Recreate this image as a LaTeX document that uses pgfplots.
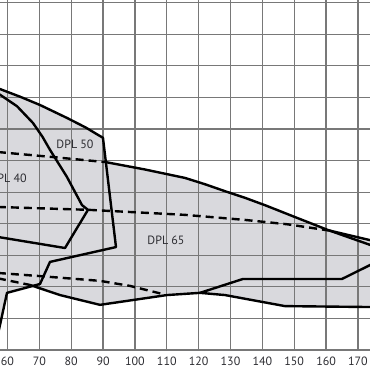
\documentclass[border=0pt]{standalone}
\usepackage{fontspec}
\setmainfont{PT Sans}
\usepackage{pgfplots}
\pgfplotsset{compat=1.18}
\definecolor{fillgray}{RGB}{217,217,221}
\definecolor{gridgray}{RGB}{120,120,120}
\definecolor{txt}{RGB}{45,45,50}
\begin{document}
\begin{tikzpicture}
\begin{axis}[name=ax, at={(0,0)}, anchor=south west,
  scale only axis, width=185pt, height=175pt,
  xmin=57.65, xmax=173.79, ymin=0, ymax=11.085,
  xtick={60,70,...,170}, ytick={0,...,11}, yticklabels={},
  grid=major, major grid style={gridgray, line width=0.6pt},
  axis line style={draw=none}, major tick length=0pt,
  tick label style={font=\fontsize{6}{7}\selectfont, text=txt},
  /pgf/number format/assume math mode=true,
  set layers, clip=true]
% gray envelope
\addplot[draw=none, fill=fillgray, on layer=axis background] coordinates {
 (57.0,8.29) (64.0,8.02) (70.2,7.76) (78.67,7.35) (84.5,7.05) (89.97,6.72) (90.89,5.95)
 (103.0,5.72) (115.71,5.45) (122.0,5.25) (128.27,5.03) (134.55,4.82) (141.0,4.58)
 (150.0,4.22) (161.2,3.78) (174.5,3.46) (174.5,1.36) (147.1,1.39)
 (128.27,1.74) (120.42,1.81) (110.06,1.74) (89.03,1.43) (76.48,1.74) (67.06,2.06)
 (59.84,1.81) (57.65,0.79) (57.3,0.63) (57.0,0.63)} -- cycle;
% DPL 50 boundary
\addplot[black, line width=1.2pt, line join=round] coordinates {
 (57.0,8.29) (64.0,8.02) (70.2,7.76) (78.67,7.35) (84.5,7.05) (89.97,6.72) (94.06,3.26) (73.34,2.79)
 (70.2,2.09) (59.84,1.81) (57.65,0.79) (57.3,0.63)};
% DPL 40 boundary
\addplot[black, line width=1.2pt, line join=round] coordinates {
 (57.0,8.13) (63.0,7.72) (68.0,7.19) (71.0,6.75) (73.34,6.34) (78.67,5.48) (83.38,4.59) (85.27,4.44)
 (78.05,3.23) (57.0,3.58)};
% upper dashed
\addplot[black, line width=1.2pt, dash pattern=on 4pt off 2.5pt] coordinates {
 (57.0,6.27) (74.28,6.11) (90.89,5.95)};
% DPL 65 top
\addplot[black, line width=1.2pt, line join=round] coordinates {
 (90.89,5.95) (103.0,5.72) (115.71,5.45) (122.0,5.25) (128.27,5.03) (134.55,4.82) (141.0,4.58)
 (150.0,4.22) (160.6,3.80) (173.79,3.33) (174.5,3.30)};
% middle dashed + solid end
\addplot[black, line width=1.2pt, dash pattern=on 4pt off 2.5pt] coordinates {
 (57.0,4.53) (85.27,4.44) (115.71,4.28) (134.55,4.12) (148.0,3.98) (161.2,3.78)};
\addplot[black, line width=1.2pt] coordinates {(161.2,3.78) (173.79,3.48) (174.5,3.46)};
% lower dashed
\addplot[black, line width=1.2pt, dash pattern=on 4pt off 2.5pt] coordinates {
 (57.0,2.44) (70.2,2.34) (89.03,2.19) (98.45,2.03) (108.8,1.77)};
% DPL 65 bottom
\addplot[black, line width=1.2pt, dash pattern=on 4pt off 2.5pt] coordinates {
 (57.0,2.27) (67.06,2.06)};
\addplot[black, line width=1.2pt, line join=round] coordinates {
 (67.06,2.06) (76.48,1.74) (89.03,1.43) (110.06,1.74) (120.42,1.81) (128.27,1.74)
 (147.1,1.39) (174.5,1.36)};
% rising curve
\addplot[black, line width=1.2pt, line join=round] coordinates {
 (120.42,1.81) (133.92,2.25) (165.0,2.25) (173.79,2.69) (174.5,2.73)};
\node[font=\fontsize{6}{7}\selectfont, text=txt] at (axis cs:81.19,6.525) {DPL 50};
\node[font=\fontsize{6}{7}\selectfont, text=txt, anchor=east, inner sep=0pt] at (axis cs:66.12,5.45) {DPL 40};
\node[font=\fontsize{6}{7}\selectfont, text=txt] at (axis cs:109.75,3.484) {DPL 65};
\end{axis}
\pgfresetboundingbox
\useasboundingbox (ax.south west) ++(0,-10pt) rectangle (ax.north east);
\end{tikzpicture}
\end{document}
